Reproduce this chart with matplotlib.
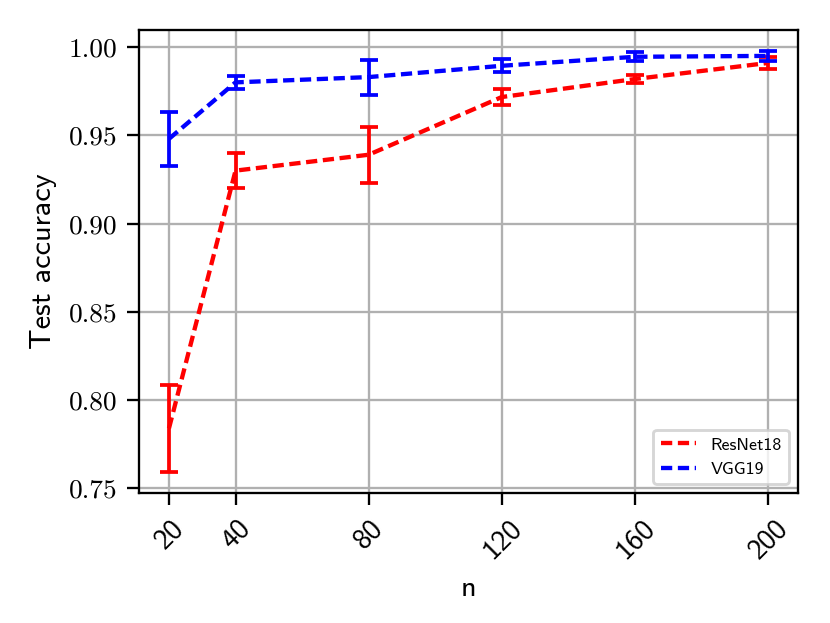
import matplotlib
matplotlib.use("Agg")
import matplotlib.pyplot as plt

# ---------------------------------------------------------------------------
# Data
# ---------------------------------------------------------------------------
n_values = [20, 40, 80, 120, 160, 200]

resnet_mean = [0.784, 0.930, 0.939, 0.9717, 0.9819, 0.991]
resnet_err  = [0.0247, 0.010, 0.016, 0.0045, 0.0025, 0.0035]

vgg_mean = [0.948, 0.980, 0.983, 0.9894, 0.9945, 0.995]
vgg_err  = [0.0152, 0.0037, 0.0099, 0.0038, 0.0025, 0.0028]

y_ticks = [0.75, 0.80, 0.85, 0.90, 0.95, 1.00]

# ---------------------------------------------------------------------------
# Plot
# ---------------------------------------------------------------------------
plt.rcParams["font.family"] = ["cmss10", "DejaVu Sans"]
plt.rcParams["axes.formatter.use_mathtext"] = True

fig = plt.figure(figsize=(4, 3.003), dpi=207.5)
ax = fig.add_axes([0.1675, 0.2087, 0.9614 - 0.1675, 0.9518 - 0.2087])

dash = (0, (2.6, 1.3))
ax.plot(n_values, resnet_mean, linestyle=dash, lw=1.5, color="red", label="ResNet18")
ax.errorbar(n_values, resnet_mean, yerr=resnet_err, fmt="none", ecolor="red",
            elinewidth=1.3, capthick=1.3, capsize=3)
ax.plot(n_values, vgg_mean, linestyle=dash, lw=1.5, color="blue", label="VGG19")
ax.errorbar(n_values, vgg_mean, yerr=vgg_err, fmt="none", ecolor="blue",
            elinewidth=1.3, capthick=1.3, capsize=3)

ax.set_xticks(n_values)
ax.set_xticklabels([str(v) for v in n_values], rotation=45, fontsize=10)
ax.set_yticks(y_ticks)
ax.set_yticklabels([f"{v:.2f}" for v in y_ticks], fontsize=9.5, family="cmr10")
ax.tick_params(length=4.2)
ax.tick_params(axis="y", pad=3.2)

ax.set_xlabel("n", fontsize=10.5)
ax.set_ylabel("Test accuracy", fontsize=10.5)
ax.grid(True)
ax.legend(loc="lower right", fontsize=6.2)

fig.savefig("out.png", dpi=207.5)
